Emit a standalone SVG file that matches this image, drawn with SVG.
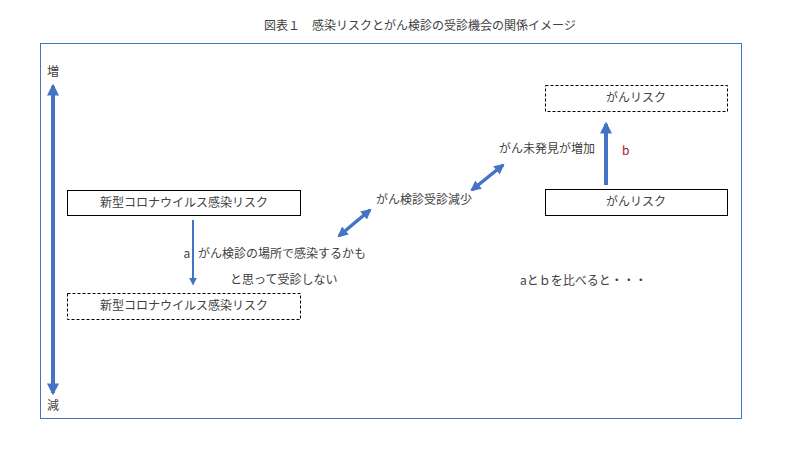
<svg xmlns="http://www.w3.org/2000/svg" width="800" height="450" viewBox="0 0 800 450">
<style>
text{font-family:"Noto Sans CJK JP","Liberation Sans",sans-serif;font-size:12px;fill:#404040}
.box{fill:#fff;stroke:#000;stroke-width:1}
.dash{stroke-dasharray:3,2}
.c{stroke:#4472c4;fill:none}
</style>
<defs>
<marker id="ah" viewBox="0 0 10 10" refX="8" refY="5" markerWidth="3" markerHeight="3" orient="auto-start-reverse"><path d="M0,0L10,5L0,10z" fill="#4472c4"/></marker>
<marker id="ah2" viewBox="0 0 10 10" refX="8" refY="5" markerWidth="4" markerHeight="4" orient="auto"><path d="M0,0L10,5L0,10z" fill="#4472c4"/></marker>
</defs>
<rect width="800" height="450" fill="#fff"/>
<text x="420" y="30" text-anchor="middle" font-size="13">図表１　感染リスクとがん検診の受診機会の関係イメージ</text>
<rect x="40.5" y="43.5" width="701" height="375" fill="none" stroke="#4472c4"/>
<g id="connectors">
<line class="c" x1="53" y1="86" x2="53" y2="393" stroke-width="4" marker-start="url(#ah)" marker-end="url(#ah)"/>
<line class="c" x1="193" y1="220" x2="193" y2="284" stroke-width="2" marker-end="url(#ah2)"/>
<line class="c" x1="606" y1="185" x2="606" y2="124" stroke-width="4" marker-end="url(#ah)"/>
<line class="c" x1="339" y1="236" x2="370" y2="210" stroke-width="3.5" marker-start="url(#ah)" marker-end="url(#ah)"/>
<line class="c" x1="472" y1="190" x2="503" y2="165" stroke-width="3.5" marker-start="url(#ah)" marker-end="url(#ah)"/>
</g>
<text x="53" y="76" text-anchor="middle">増</text>
<text x="53" y="410" text-anchor="middle">減</text>
<g id="n1"><rect class="box" x="67.5" y="190.5" width="233" height="25"/><text x="184" y="207" text-anchor="middle">新型コロナウイルス感染リスク</text></g>
<g id="n2"><rect class="box dash" x="67.5" y="293.5" width="233" height="26"/><text x="184" y="310" text-anchor="middle">新型コロナウイルス感染リスク</text></g>
<g id="n3"><rect class="box dash" x="545.5" y="85.5" width="182" height="26"/><text x="636" y="102" text-anchor="middle">がんリスク</text></g>
<g id="n4"><rect class="box" x="545.5" y="189.5" width="182" height="26"/><text x="636" y="206" text-anchor="middle">がんリスク</text></g>
<text x="187" y="258" text-anchor="middle">a</text>
<text x="198" y="258">がん検診の場所で感染するかも</text>
<text x="230" y="284">と思って受診しない</text>
<text x="424" y="204" text-anchor="middle">がん検診受診減少</text>
<text x="547" y="153" text-anchor="middle">がん未発見が増加</text>
<text x="622" y="155" fill="#8b1a1a" style="fill:#9b2020">b</text>
<text x="520" y="285">aとｂを比べると・・・</text>
</svg>
